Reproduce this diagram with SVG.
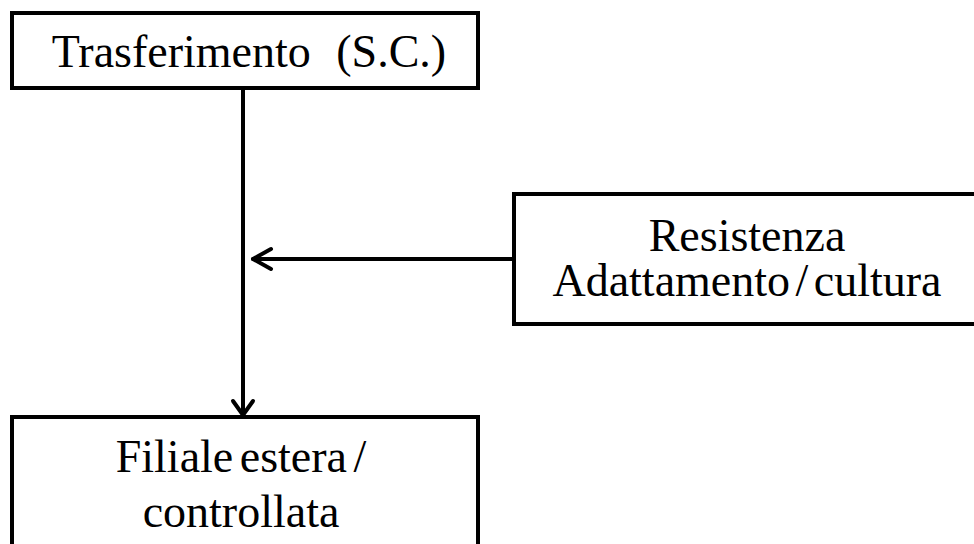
<svg xmlns="http://www.w3.org/2000/svg" width="974" height="544" viewBox="0 0 974 544">
<style>
.box{fill:#fff;stroke:#000;stroke-width:4}
.t{font-family:"Liberation Serif","Times New Roman",serif;font-size:46px;fill:#000;text-anchor:middle}
.c{fill:none;stroke:#000;stroke-width:4;stroke-linecap:round;stroke-linejoin:round}
</style>
<rect width="974" height="544" fill="#fff"/>
<g id="connectors">
<path class="c" d="M243 88 V415"/>
<path class="c" d="M233 401 L243 415 L253 401"/>
<path class="c" d="M514 259 H253"/>
<path class="c" d="M271 249 L253 259 L271 269"/>
</g>
<g id="node-trasferimento">
<rect class="box" x="12" y="13" width="466" height="75"/>
<text class="t" x="249" y="67" word-spacing="14">Trasferimento (S.C.)</text>
</g>
<g id="node-resistenza">
<rect class="box" x="514" y="194" width="470" height="130"/>
<text class="t" x="747" y="251">Resistenza</text>
<text class="t" x="747" y="296" word-spacing="-6">Adattamento / cultura</text>
</g>
<g id="node-filiale">
<rect class="box" x="12" y="417" width="466" height="140"/>
<text class="t" x="241" y="472" word-spacing="-5">Filiale estera /</text>
<text class="t" x="241" y="527">controllata</text>
</g>
</svg>
